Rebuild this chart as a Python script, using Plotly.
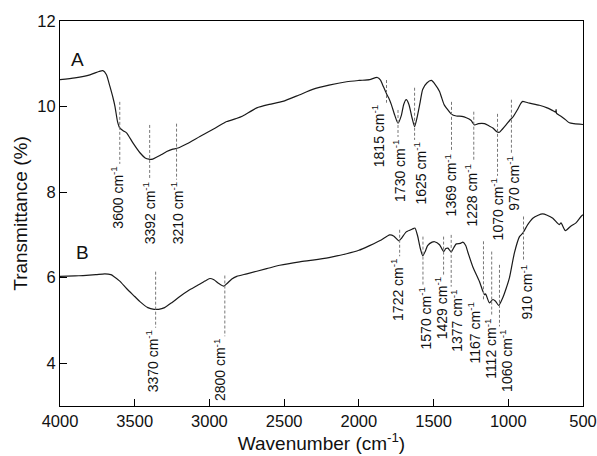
import plotly.graph_objects as go

# ---- Curve A ----
wn_a = [4000, 3900, 3800, 3740, 3713, 3690, 3666, 3645, 3632, 3615, 3600, 3575, 3553, 3512, 3465,
        3430, 3405, 3380, 3352, 3320, 3286, 3250, 3210, 3150, 3064, 2960, 2884, 2820, 2777, 2683,
        2600, 2509, 2400, 2309, 2200, 2082, 2000, 1928, 1877, 1855, 1840, 1815, 1800, 1783, 1760,
        1738, 1715, 1700, 1683, 1665, 1645, 1627, 1610, 1590, 1573, 1545, 1515, 1490, 1460, 1448,
        1430, 1404, 1380, 1348, 1310, 1281, 1250, 1226, 1200, 1159, 1130, 1103, 1080, 1059, 1040,
        1015, 990, 970, 940, 915, 903, 880, 858, 792, 740, 700, 683, 680, 677, 650, 620, 591, 560, 500]
t_a = [10.63, 10.67, 10.74, 10.82, 10.84, 10.75, 10.47, 10.2, 10.0, 9.65, 9.5, 9.43, 9.38, 9.15, 8.92,
       8.8, 8.77, 8.77, 8.82, 8.88, 8.95, 9.0, 9.03, 9.13, 9.3, 9.5, 9.65, 9.72, 9.78, 9.97,
       10.05, 10.12, 10.27, 10.4, 10.5, 10.58, 10.61, 10.63, 10.68, 10.62, 10.5, 10.3, 10.2, 10.05, 9.8,
       9.61, 9.8, 10.05, 10.16, 10.05, 9.75, 9.53, 9.75, 10.1, 10.4, 10.55, 10.61, 10.52, 10.35, 10.23,
       10.05, 9.92, 9.82, 9.78, 9.77, 9.74, 9.68, 9.57, 9.6, 9.6, 9.55, 9.5, 9.42, 9.40, 9.47,
       9.57, 9.68, 9.75, 9.92, 10.08, 10.12, 10.1, 10.08, 10.03, 9.97, 9.9, 9.87, 9.93, 9.84, 9.78, 9.7, 9.62, 9.6, 9.58]

# ---- Curve B ----
wn_b = [4000, 3900, 3846, 3760, 3700, 3660, 3640, 3600, 3553, 3500, 3465, 3412, 3370, 3340, 3300,
        3250, 3198, 3140, 3084, 3030, 2997, 2970, 2940, 2904, 2880, 2850, 2817, 2750, 2617, 2529,
        2396, 2309, 2200, 2082, 2000, 1928, 1850, 1794, 1765, 1745, 1732, 1715, 1683, 1640, 1625,
        1607, 1590, 1572, 1555, 1540, 1510, 1493, 1460, 1433, 1418, 1404, 1382, 1365, 1348, 1320,
        1304, 1285, 1271, 1237, 1193, 1170, 1158, 1152, 1126, 1103, 1085, 1064, 1037, 1015, 992,
        959, 925, 903, 870, 836, 800, 770, 740, 702, 658, 647, 618, 580, 547, 513, 500]
t_b = [6.03, 6.04, 6.05, 6.07, 6.09, 6.07, 6.03, 5.92, 5.74, 5.56, 5.44, 5.3, 5.26, 5.26, 5.3,
       5.42, 5.56, 5.7, 5.81, 5.92, 5.98, 5.95, 5.87, 5.80, 5.87, 5.97, 6.03, 6.09, 6.21, 6.29,
       6.37, 6.41, 6.47, 6.56, 6.64, 6.75, 6.88, 7.0, 6.97, 6.9, 6.86, 6.92, 7.07, 7.14, 7.16,
       6.98, 6.7, 6.51, 6.62, 6.75, 6.83, 6.84, 6.77, 6.61, 6.68, 6.69, 6.6, 6.7, 6.79, 6.8,
       6.83, 6.75, 6.6, 6.25, 5.91, 5.68, 5.6, 5.62, 5.41, 5.49, 5.45, 5.35, 5.53, 5.74, 6.0,
       6.58, 6.96, 7.04, 7.24, 7.39, 7.46, 7.49, 7.46, 7.39, 7.24, 7.28, 7.1, 7.21, 7.28, 7.43, 7.47]

# ---- Peak labels (wavenumber position, dashed line top/bottom in %T) ----
peak_wn_a = [3600, 3400, 3220, 1815, 1738, 1627, 1380, 1231, 1072, 979]
peak_top_a = [10.11, 9.57, 9.60, 10.62, 9.92, 10.44, 10.11, 9.88, 9.83, 10.16]
peak_bot_a = [8.66, 8.29, 8.29, 10.09, 9.29, 9.22, 8.94, 8.71, 8.38, 8.92]
peak_lbl_a = ["3600", "3392", "3210", "1815", "1730", "1625", "1369", "1228", "1070", "970"]

peak_wn_b = [3360, 2897, 1727, 1571, 1433, 1382, 1166, 1111, 1059, 898]
peak_top_b = [6.14, 6.05, 7.12, 6.96, 6.96, 7.00, 6.85, 6.61, 6.30, 7.43]
peak_bot_b = [4.83, 4.63, 6.50, 5.84, 6.07, 5.79, 5.49, 5.10, 4.86, 6.38]
peak_lbl_b = ["3370", "2800", "1722", "1570", "1429", "1377", "1167", "1112", "1060", "910"]

# horizontal nudge of each label text relative to its dashed line (pixels)
nudge_a = [-3, -1, 0, -9, 1, 5, -1, -3, -1, 2]
nudge_b = [-4, -5, -2, 2, -3, 5, -9, -1, 7, 3]

x_ticks = [4000, 3500, 3000, 2500, 2000, 1500, 1000, 500]
y_ticks = [4, 6, 8, 10, 12]

FONT = "Liberation Sans, Arial, sans-serif"

fig = go.Figure()
for wn, t in [(wn_a, t_a), (wn_b, t_b)]:
    fig.add_trace(go.Scatter(x=wn, y=t, mode="lines",
                             line=dict(color="#1a1a1a", width=1.2, shape="spline", smoothing=0.6),
                             showlegend=False, hoverinfo="skip"))

annotations = []
shapes = []
for wns, tops, bots, lbls, nud in [(peak_wn_a, peak_top_a, peak_bot_a, peak_lbl_a, nudge_a),
                                   (peak_wn_b, peak_top_b, peak_bot_b, peak_lbl_b, nudge_b)]:
    for w, y0, y1, lb, dx in zip(wns, tops, bots, lbls, nud):
        shapes.append(dict(type="line", xref="x", yref="y", x0=w, x1=w, y0=y0, y1=y1,
                           line=dict(color="#777777", width=1, dash="3px,2px")))
        annotations.append(dict(x=w, y=y1, xref="x", yref="y", text=f"{lb} cm<sup>-1</sup>",
                                textangle=-90, showarrow=False, xanchor="center", yanchor="top",
                                yshift=-1, xshift=dx, font=dict(family=FONT, size=14, color="#111111")))

annotations.append(dict(x=3880, y=11.1, xref="x", yref="y", text="A", showarrow=False,
                        font=dict(family=FONT, size=19, color="#111111")))
annotations.append(dict(x=3850, y=6.6, xref="x", yref="y", text="B", showarrow=False,
                        font=dict(family=FONT, size=19, color="#111111")))

fig.update_layout(
    width=597, height=456,
    margin=dict(l=60, r=14, t=21, b=50, autoexpand=False),
    paper_bgcolor="white", plot_bgcolor="white",
    shapes=shapes, annotations=annotations,
    font=dict(family=FONT, size=16, color="#111111"),
)
fig.update_xaxes(range=[4000, 500], tickvals=x_ticks, ticks="inside", ticklen=7, tickwidth=1.2,
                 tickcolor="black", showline=True, linecolor="black", linewidth=1.2, mirror=True,
                 showgrid=False, zeroline=False, tickfont=dict(size=16.5), automargin=False,
                 title=dict(text="Wavenumber (cm<sup>-1</sup>)", font=dict(size=19), standoff=2))
fig.update_yaxes(range=[3, 12], tickvals=y_ticks, ticks="inside", ticklen=7, tickwidth=1.2,
                 tickcolor="black", showline=True, linecolor="black", linewidth=1.2, mirror=True,
                 showgrid=False, zeroline=False, tickfont=dict(size=16.5), automargin=False,
                 title=dict(text="Transmittance (%)", font=dict(size=19), standoff=4))

fig.write_html("out.html", config={"displayModeBar": False},
               post_script="document.body.style.margin='0';document.body.style.overflow='hidden';")
